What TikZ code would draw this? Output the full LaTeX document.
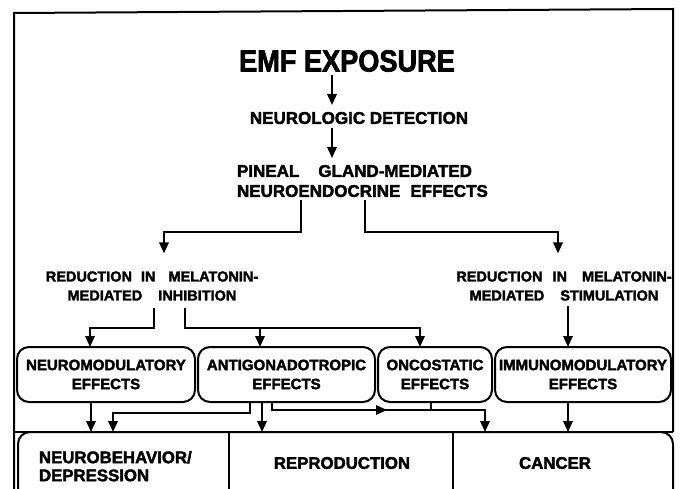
\documentclass[tikz,border=0pt]{standalone}
\usepackage{fontspec}
\setmainfont{Liberation Sans}[BoldFont={Liberation Sans Bold}, BoldFeatures={FakeBold=2.2}]
\newfontfamily\condfont{Liberation Sans}[FakeStretch=0.89, BoldFont={Liberation Sans Bold}, BoldFeatures={FakeBold=2.2, FakeStretch=0.89}]
\usetikzlibrary{arrows.meta,decorations.markings}
\begin{document}
\begin{tikzpicture}[x=1pt,y=-1pt,
  line width=2pt,
  arr/.style={-{Triangle[length=11pt,width=9.5pt]}},
  midarr/.style={postaction={decorate}, decoration={markings, mark=at position #1 with {\arrow{Triangle[length=11pt,width=9.5pt]}}}},
  lbl/.style={inner sep=0pt, outer sep=0pt, font=\bfseries},
  effbox/.style={draw, rounded corners=12pt, minimum height=55pt, inner xsep=2pt, inner ysep=0pt, outer sep=0pt, align=center, font=\fontsize{15}{19}\selectfont\bfseries},
  cellbox/.style={inner sep=0pt, outer sep=0pt, minimum height=68pt, anchor=north west}
]
\fill[white] (0,0) rectangle (680,489);
\useasboundingbox (0,0) rectangle (680,489);
\clip (0,0) rectangle (680,489);

% frame and bottom row
\draw (14,500) -- (14,13) -- (673,9) -- (673,432);
\draw (14,432) -- (673,432);
\draw[rounded corners=12pt] (18,500) -- (18,432) -- (673,432) -- (673,500);
\draw (229,432) -- (229,500);
\draw (453,432) -- (453,500);

% text nodes
\node[lbl, font=\condfont\fontsize{30.5}{32}\selectfont\bfseries] (title) at (347,61) {EMF EXPOSURE};
\node[lbl, font=\fontsize{17}{20}\selectfont\bfseries] (detect) at (359,118) {NEUROLOGIC DETECTION};
\node[lbl, anchor=north west, align=left, font=\fontsize{17}{20}\selectfont\bfseries] (pin) at (237,165)
  {PINEAL\hspace{19pt}GLAND-MEDIATED\\NEUROENDOCRINE\hspace{10pt}EFFECTS};
\node[lbl, align=center, font=\fontsize{14.5}{19}\selectfont\bfseries] (redL) at (152,286)
  {REDUCTION\hspace{9pt}IN\hspace{13pt}MELATONIN-\\MEDIATED\hspace{16pt}INHIBITION};
\node[lbl, align=center, font=\fontsize{14.5}{19}\selectfont\bfseries] (redR) at (564,286)
  {REDUCTION\hspace{10pt}IN\hspace{15pt}MELATONIN-\\MEDIATED\hspace{16pt}STIMULATION};

% effect boxes
\node[effbox, minimum width=178pt] (neuro) at (106,374.5) {NEUROMODULATORY\\EFFECTS};
\node[effbox, minimum width=177pt] (anti) at (286.5,374.5) {ANTIGONADOTROPIC\\EFFECTS};
\node[effbox, minimum width=114pt] (onco) at (435,374.5) {ONCOSTATIC\\EFFECTS};
\node[effbox, minimum width=176pt] (immuno) at (583,374.5) {IMMUNOMODULATORY\\EFFECTS};

% bottom cells
\node[cellbox, minimum width=211pt] (nbc) at (18,432) {};
\node[cellbox, minimum width=224pt] (repc) at (229,432) {};
\node[cellbox, minimum width=220pt] (canc) at (453,432) {};
\node[lbl, anchor=north west, align=left, font=\fontsize{16.8}{18}\selectfont\bfseries] (nbt) at (39,451) {NEUROBEHAVIOR/\\DEPRESSION};
\node[lbl, font=\fontsize{16.8}{18}\selectfont\bfseries] (rept) at (342,463) {REPRODUCTION};
\node[lbl, font=\fontsize{16.8}{18}\selectfont\bfseries] (cant) at (555,463) {CANCER};

% reference coordinates
\coordinate (xA) at (332,0);
\coordinate (jL) at (301,232);
\coordinate (jR) at (365,232);
\coordinate (tL) at (164,0);
\coordinate (tR) at (558,0);
\coordinate (kL) at (154,328);
\coordinate (kM) at (185,328);
\coordinate (x90) at (90,0);
\coordinate (x260) at (260,0);
\coordinate (x420) at (420,0);
\coordinate (x568) at (568,0);
\coordinate (x91) at (91,0);
\coordinate (mA) at (250,413);
\coordinate (x113) at (113,0);
\coordinate (x262) at (262,0);
\coordinate (mB) at (272,410);
\coordinate (x485) at (485,0);
\coordinate (jO) at (431,410);

% connectors
\draw[arr, shorten <=3pt, shorten >=7pt] (title.south -| xA) -- (detect.north -| xA);
\draw[arr, shorten <=4pt, shorten >=7pt] (detect.south -| xA) -- (pin.north -| xA);
\draw[arr, shorten <=3pt, shorten >=18pt] (pin.south -| jL) -- (jL) -| (redL.north -| tL);
\draw[arr, shorten <=3pt, shorten >=18pt] (pin.south -| jR) -- (jR) -| (redR.north -| tR);
\draw[arr, shorten <=7pt] (redL.south -| kL) -- (kL) -| (neuro.north -| x90);
\draw[arr, shorten <=7pt] (redL.south -| kM) -- (kM) -| (anti.north -| x260);
\draw[arr, shorten <=7pt] (redL.south -| kM) -- (kM) -| (onco.north -| x420);
\draw[arr, shorten <=5pt] (redR.south -| x568) -- (immuno.north -| x568);

\draw[arr] (neuro.south -| x91) -- (nbc.north -| x91);
\draw[arr] (anti.south -| mA) -- (mA) -| (nbc.north -| x113);
\draw[arr] (anti.south -| x262) -- (repc.north -| x262);
\draw[arr, midarr=123pt] (anti.south -| mB) -- (mB) -| (canc.north -| x485);
\draw (onco.south -| jO) -- (jO);
\draw[arr] (immuno.south -| x568) -- (canc.north -| x568);
\end{tikzpicture}
\end{document}
